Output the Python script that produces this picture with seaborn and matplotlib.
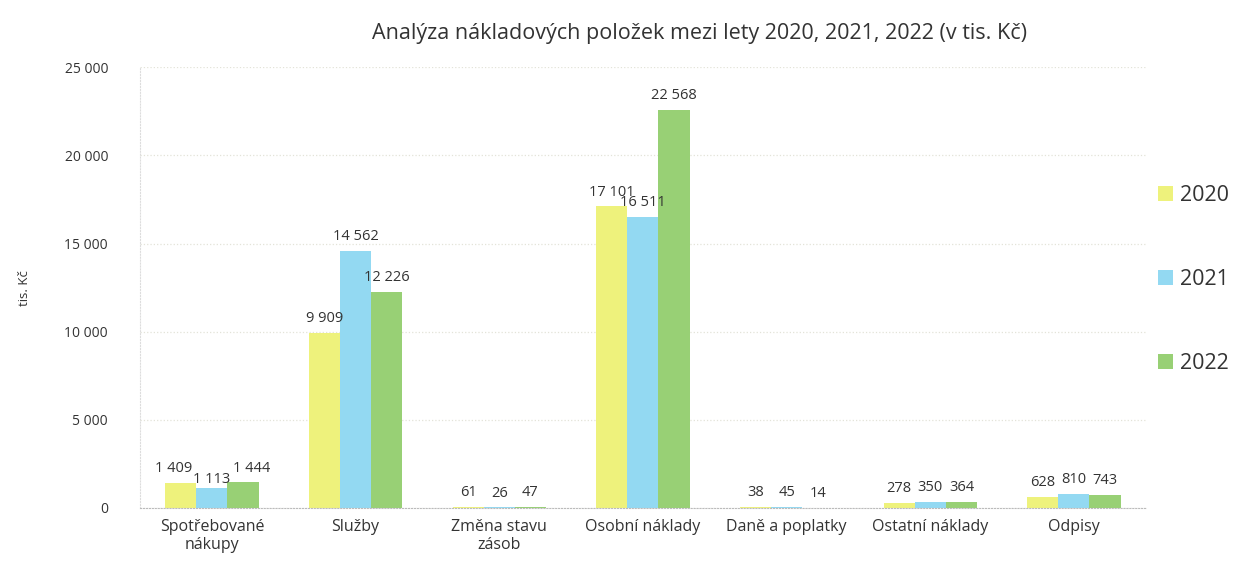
import matplotlib
matplotlib.use("Agg")
import matplotlib.pyplot as plt
import pandas as pd
import seaborn as sns

categories = ["Spotřebované\nnákupy", "Služby", "Změna stavu\nzásob", "Osobní náklady",
              "Daně a poplatky", "Ostatní náklady", "Odpisy"]
years = ["2020", "2021", "2022"]
v2020 = [1409, 9909, 61, 17101, 38, 278, 628]
v2021 = [1113, 14562, 26, 16511, 45, 350, 810]
v2022 = [1444, 12226, 47, 22568, 14, 364, 743]
colors = ["#eef27c", "#93d9f2", "#98d075"]

df = pd.DataFrame({
    "kategorie": categories * 3,
    "rok": [y for y in years for _ in categories],
    "hodnota": v2020 + v2021 + v2022,
})

sns.set_style("white")
plt.rcParams["font.family"] = ["Open Sans", "DejaVu Sans"]

fig = plt.figure(figsize=(12.34, 5.65), dpi=100)
ax = fig.add_axes([0.1135, 0.101, 0.815, 0.78])

sns.barplot(data=df, x="kategorie", y="hodnota", hue="rok", order=categories,
            hue_order=years, palette=colors, width=0.65, saturation=1,
            edgecolor="none", ax=ax)

def fmt(v):
    return f"{v:,}".replace(",", " ")

texts = []
for cont in ax.containers:
    texts.append(ax.bar_label(cont, labels=[fmt(int(b.get_height())) for b in cont],
                              padding=5, fontsize=10.5, color="#333333"))

# first group labels are crowded: nudge them apart like the original
texts[0][0].xyann = (-5, 5)
texts[1][0].xyann = (0, 1)
texts[2][0].xyann = (6, 5)

ax.set_ylim(0, 25000)
ax.set_yticks(range(0, 25001, 5000))
ax.set_yticklabels([fmt(t) for t in range(0, 25001, 5000)], fontsize=10, color="#333333")
ax.tick_params(axis="x", labelsize=11.5, colors="#333333", length=0, pad=8)
ax.tick_params(axis="y", length=0, pad=23)
ax.set_xlabel("")
ax.set_ylabel("tis. Kč", fontsize=9.5, color="#333333", labelpad=24)
ax.yaxis.grid(True, color="#e3e3d8", linestyle=":", linewidth=0.9)
ax.set_axisbelow(True)
for side in ["top", "right"]:
    ax.spines[side].set_visible(False)
ax.spines["left"].set_color("#dddddd")
ax.spines["left"].set_linestyle(":")
ax.spines["bottom"].set_color("#bbbbbb")
ax.spines["bottom"].set_linestyle(":")

fig.suptitle("Analýza nákladových položek mezi lety 2020, 2021, 2022 (v tis. Kč)",
             x=0.567, y=0.96, fontsize=15.5, color="#333333")

handles, labels = ax.get_legend_handles_labels()
ax.legend(handles, labels, loc="center left", bbox_to_anchor=(1.012, 0.519),
          frameon=False, fontsize=15.5, handlelength=0.7, handleheight=0.7,
          handletextpad=0.33, labelspacing=2.93, borderpad=0, borderaxespad=0,
          labelcolor="#333333")

fig.savefig("out.png", dpi=100)
